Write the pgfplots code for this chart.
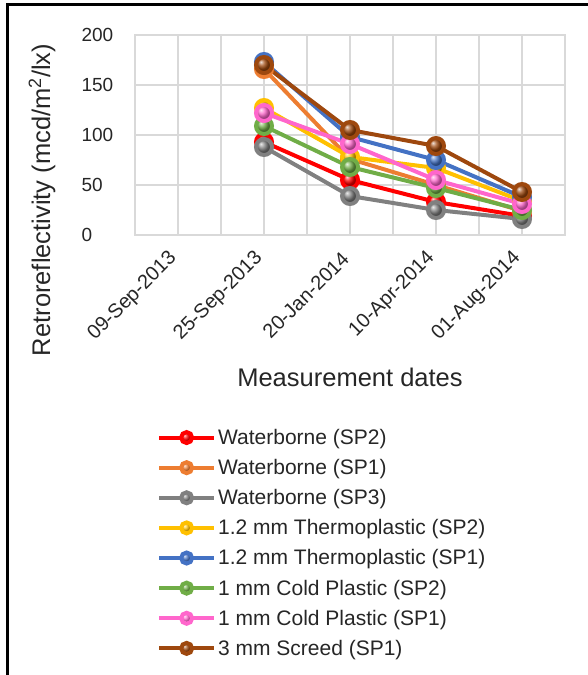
\documentclass[border=0pt]{standalone}
\usepackage{fontspec}
\setmainfont{Liberation Sans}
\usepackage{pgfplots}
\pgfplotsset{compat=1.18}
\usetikzlibrary{plotmarks}

\definecolor{cRed}{HTML}{FF0000}
\definecolor{cOrange}{HTML}{ED7D31}
\definecolor{cGray}{HTML}{808080}
\definecolor{cYellow}{HTML}{FFC000}
\definecolor{cBlue}{HTML}{4472C4}
\definecolor{cGreen}{HTML}{70AD47}
\definecolor{cPink}{HTML}{FF66CC}
\definecolor{cBrown}{HTML}{9E480E}
\definecolor{gridc}{HTML}{D9D9D9}
\definecolor{txt}{HTML}{262626}

\pgfplotsset{
  ser/.style={line width=4pt, mark=ball, mark size=8pt, color=#1, mark options={ball color=#1}},
}

\begin{document}
\begin{tikzpicture}
\useasboundingbox (0pt,0pt) rectangle (588pt,675pt);
% outer frame of the figure
\draw[line width=3pt, black] (7.5pt,-5pt) -- (7.5pt,670pt) -- (600pt,670pt);

\begin{axis}[
    at={(135pt,440pt)}, anchor=south west,
    scale only axis,
    width=430pt, height=200pt,
    xmin=0, xmax=10, ymin=0, ymax=200,
    xtick={1,3,5,7,9},
    xticklabels={09-Sep-2013,25-Sep-2013,20-Jan-2014,10-Apr-2014,01-Aug-2014},
    minor xtick={0,2,4,6,8,10},
    ytick={0,50,100,150,200},
    grid=both,
    major grid style={gridc, line width=1.3pt},
    minor grid style={gridc, line width=1.3pt},
    axis line style={gridc, line width=1.3pt},
    major tick length=0pt, minor tick length=0pt,
    /pgf/number format/assume math mode=true,
    ticklabel style={text=txt},
    yticklabel style={font=\fontsize{19}{22}\selectfont, anchor=west, xshift=-57pt},
    xticklabel style={font=\fontsize{20}{23}\selectfont, xshift=-2pt, yshift=-18pt, rotate=45, anchor=east},
    clip=false,
    legend cell align=left,
    legend style={at={(0.051,-0.96)}, anchor=north west, draw=none, fill=none,
      font=\fontsize{21}{25}\selectfont, text=txt, row sep=9.4pt, inner sep=0pt},
    legend image code/.code={
      \draw[#1, mark size=5.5pt, mark repeat=2, mark phase=2]
        plot coordinates {(0pt,0pt) (27.5pt,0pt) (55pt,0pt)};
    },
]
\addplot[ser=cRed] coordinates {(3,93) (5,55) (7,33) (9,19)};
\addlegendentry{Waterborne (SP2)}
\addplot[ser=cOrange] coordinates {(3,166) (5,76) (7,50) (9,24)};
\addlegendentry{Waterborne (SP1)}
\addplot[ser=cGray] coordinates {(3,88) (5,39) (7,25) (9,16)};
\addlegendentry{Waterborne (SP3)}
\addplot[ser=cYellow] coordinates {(3,127) (5,78) (7,67) (9,34)};
\addlegendentry{1.2 mm Thermoplastic (SP2)}
\addplot[ser=cBlue] coordinates {(3,173) (5,98) (7,75) (9,38)};
\addlegendentry{1.2 mm Thermoplastic (SP1)}
\addplot[ser=cGreen] coordinates {(3,109) (5,68) (7,47) (9,25)};
\addlegendentry{1 mm Cold Plastic (SP2)}
\addplot[ser=cPink] coordinates {(3,122) (5,91) (7,55) (9,31)};
\addlegendentry{1 mm Cold Plastic (SP1)}
\addplot[ser=cBrown] coordinates {(3,170) (5,105) (7,89) (9,43)};
\addlegendentry{3 mm Screed (SP1)}
\end{axis}

\node[text=txt, font=\fontsize{25.5}{28}\selectfont, rotate=90] at (42pt,475pt) {Retroreflectivity (mcd/m\textsuperscript{2}/lx)};
\node[text=txt, font=\fontsize{25.5}{28}\selectfont] at (350pt,298pt) {Measurement dates};
\end{tikzpicture}
\end{document}
